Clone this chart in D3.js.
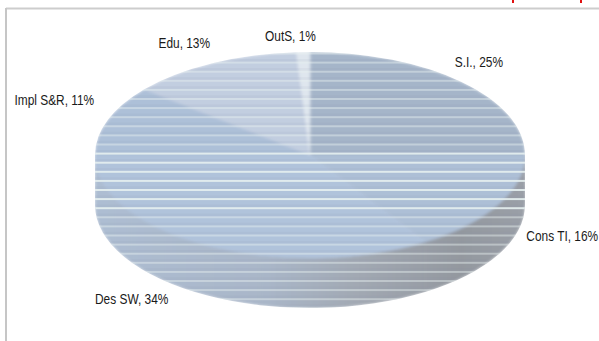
<!DOCTYPE html>
<html>
<head>
<meta charset="utf-8">
<script src="https://cdn.jsdelivr.net/npm/d3@7"></script>
<style>
  html, body { margin: 0; padding: 0; background: #ffffff; }
  svg { display: block; }
  .lbl { font-family: "Liberation Sans", Arial, sans-serif; font-size: 14px; fill: #1a1a1a; }
</style>
</head>
<body>
<svg id="chart" width="599" height="341"></svg>
<script>
// Share of effort by activity (percent)
const categories = ["S.I.", "Cons TI", "Des SW", "Impl S&R", "Edu", "OutS"];
const shares     = [25, 16, 34, 11, 13, 1];
const labels     = ["S.I., 25%", "Cons TI, 16%", "Des SW, 34%", "Impl S&R, 11%", "Edu, 13%", "OutS, 1%"];

// Fill of each slice's top face
const topColors  = ["#a5b5c9", "#adbfd6", "#b0c3db", "#adc0d8", "#c2cee0", "#dfe6ee"];
// Hand-tuned label nudges (dx, dy) on top of the computed label anchor
const labelNudge = [[-25, 2], [6, -8], [-26, -18], [10, -9], [9, 8], [-12, 16]];

const W = 599, H = 341;
const svg = d3.select("#chart");

// Frame
svg.append("line").attr("x1", 6).attr("x2", W).attr("y1", 8.5).attr("y2", 8.5)
  .attr("stroke", "#cdcdcd").attr("stroke-width", 2);
svg.append("line").attr("x1", 6).attr("x2", 6).attr("y1", 8).attr("y2", H)
  .attr("stroke", "#c6c6c6").attr("stroke-width", 2);
// red marks peeking in at the top edge
[513, 581].forEach(x => svg.append("rect").attr("x", x - 1).attr("y", 0)
  .attr("width", 2).attr("height", 3).attr("fill", "#e01010"));

// 3D pie geometry
const cx = 310, cy = 155, rx = 215, ry = 103, depth = 50;
const pt = (a, dy = 0) => [cx + rx * Math.sin(a), cy - ry * Math.cos(a) + dy];

const pie = d3.pie().sort(null).value(d => d).startAngle(0).endAngle(2 * Math.PI);
const arcs = pie(shares);

function topPath(d) {
  const p0 = pt(d.startAngle), p1 = pt(d.endAngle);
  const large = (d.endAngle - d.startAngle) > Math.PI ? 1 : 0;
  const p = d3.path();
  p.moveTo(cx, cy);
  p.lineTo(p0[0], p0[1]);
  return p.toString() + ` A${rx},${ry} 0 ${large} 1 ${p1[0]},${p1[1]} Z`;
}

function wallPath(d) {
  const s = Math.max(d.startAngle, Math.PI / 2);
  const e = Math.min(d.endAngle, 3 * Math.PI / 2);
  if (e <= s) return null;
  const a = pt(s), b = pt(e), c = pt(e, depth), f = pt(s, depth);
  const large = (e - s) > Math.PI ? 1 : 0;
  return `M${a[0]},${a[1]} A${rx},${ry} 0 ${large} 1 ${b[0]},${b[1]}` +
         ` L${c[0]},${c[1]} A${rx},${ry} 0 ${large} 0 ${f[0]},${f[1]} Z`;
}

const defs = svg.append("defs");
const wallGrad = defs.append("linearGradient").attr("id", "wallGrad")
  .attr("gradientUnits", "userSpaceOnUse")
  .attr("x1", cx - rx).attr("x2", cx + rx).attr("y1", 0).attr("y2", 0);
[[0, "#adbdd2"], [0.4, "#a9b6c8"], [0.62, "#a1a8b2"], [0.85, "#93989f"], [1, "#9a9fa7"]]
  .forEach(([o, c]) => wallGrad.append("stop").attr("offset", o).attr("stop-color", c));

defs.append("filter").attr("id", "soft")
  .attr("x", "-5%").attr("y", "-5%").attr("width", "110%").attr("height", "110%")
  .append("feGaussianBlur").attr("stdDeviation", 1.6);

const clip = defs.append("clipPath").attr("id", "pieClip");
arcs.forEach(d => {
  clip.append("path").attr("d", topPath(d));
  const w = wallPath(d);
  if (w) clip.append("path").attr("d", w);
});

const holder = svg.append("g").attr("clip-path", "url(#pieClip)");
const g = holder.append("g").attr("filter", "url(#soft)");

// side walls
g.selectAll("path.wall").data(arcs.filter(d => wallPath(d)))
  .join("path").attr("class", "wall")
  .attr("d", wallPath).attr("fill", "url(#wallGrad)")
  .attr("stroke", "url(#wallGrad)").attr("stroke-width", 1);

// top faces
g.selectAll("path.top").data(arcs)
  .join("path").attr("class", "top")
  .attr("d", topPath).attr("fill", (d, i) => topColors[i])
  .attr("stroke", (d, i) => topColors[i]).attr("stroke-width", 0.6);

// horizontal striping over the whole pie
const stripes = holder.append("g");
d3.range(53.5, cy + ry + depth + 5, 9.1).forEach(y => {
  const bright = y > 148 && y < 215;
  stripes.append("rect").attr("x", cx - rx - 5).attr("width", 2 * rx + 10)
    .attr("y", y - 1).attr("height", 2)
    .attr("fill", "#e6f0ef").attr("opacity", bright ? 0.9 : 0.45);
  stripes.append("rect").attr("x", cx - rx - 5).attr("width", 2 * rx + 10)
    .attr("y", y + 5.5).attr("height", 2.5)
    .attr("fill", "#7f8ea2").attr("opacity", 0.08);
});

// data labels
arcs.forEach((d, i) => {
  const mid = (d.startAngle + d.endAngle) / 2;
  const s = Math.sin(mid), c = Math.cos(mid);
  let x = cx + 240 * s;
  let y = cy - 135 * c + (c < 0 ? -c * depth : 0);
  x += labelNudge[i][0];
  y += labelNudge[i][1] + 5;
  const anchor = s > 0.1 ? "start" : (s < -0.1 ? "end" : "middle");
  svg.append("text").attr("class", "lbl")
    .attr("transform", `translate(${x},${y}) scale(0.85,1)`)
    .attr("text-anchor", anchor)
    .text(labels[i]);
});
</script>
</body>
</html>
